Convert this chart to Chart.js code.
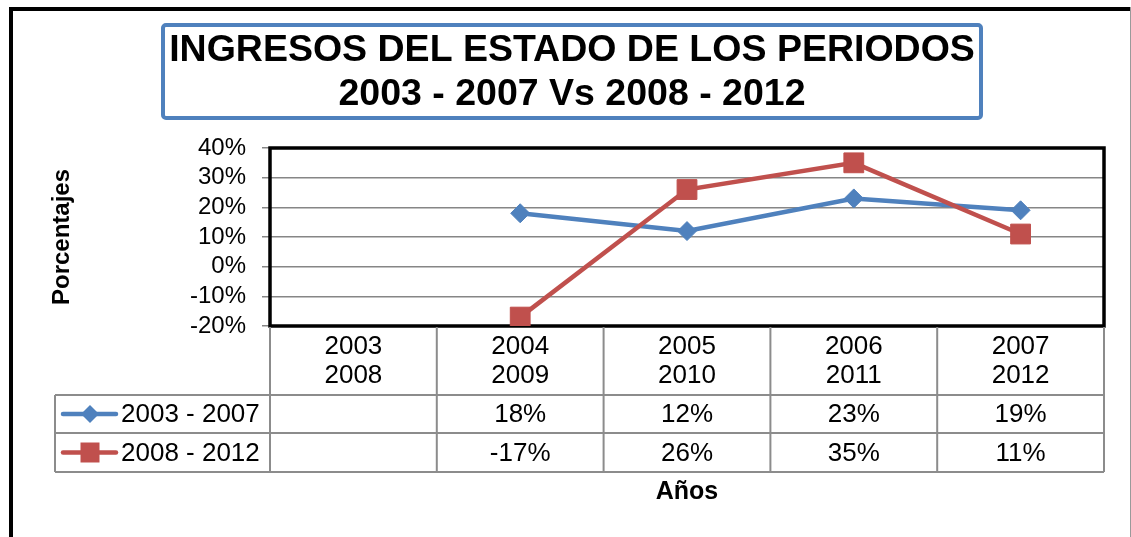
<!DOCTYPE html>
<html>
<head>
<meta charset="utf-8">
<title>Ingresos del Estado</title>
<script src="https://cdn.jsdelivr.net/npm/chart.js@4.4.0/dist/chart.umd.min.js"></script>
<style>
  html, body { margin: 0; padding: 0; background: #fff; }
  #chart { display: block; }
</style>
</head>
<body>
<canvas id="chart" width="1131" height="537"></canvas>
<script>
// datos del grafico
const catTop = ['2003', '2004', '2005', '2006', '2007'];
const catBottom = ['2008', '2009', '2010', '2011', '2012'];
const serie1 = [null, 18, 12, 23, 19];   // 2003 - 2007
const serie2 = [null, -17, 26, 35, 11];  // 2008 - 2012
const serieNames = ['2003 - 2007', '2008 - 2012'];
const yMin = -20, yMax = 40, yStep = 10;

const titleLines = ['INGRESOS DEL ESTADO DE LOS PERIODOS', '2003 - 2007 Vs 2008 - 2012'];
const yTitle = 'Porcentajes';
const xTitle = 'Años';

const BLUE = '#4F81BD';
const RED = '#C0504D';
const FONT = '"Liberation Sans", Arial, sans-serif';

/**
 * Dibuja el marco, el titulo, la tabla de datos y los titulos de ejes
 */
const extrasPlugin = {
    id: 'extras',
    beforeDraw(chart) {
        const ctx = chart.ctx;
        ctx.save();
        ctx.fillStyle = '#fff';
        ctx.fillRect(0, 0, chart.width, chart.height);
        // marco exterior
        ctx.strokeStyle = '#000';
        ctx.lineWidth = 4;
        ctx.strokeRect(11, 9, 1200, 700);
        ctx.strokeStyle = '#9a9a9a';
        ctx.lineWidth = 1;
        ctx.beginPath();
        ctx.moveTo(1130.5, 7);
        ctx.lineTo(1130.5, 537);
        ctx.stroke();
        ctx.restore();
    },
    beforeDatasetsDraw(chart) {
        const { ctx, chartArea: a } = chart;
        ctx.save();
        ctx.strokeStyle = '#000';
        ctx.lineWidth = 3.5;
        ctx.strokeRect(a.left, a.top, a.right - a.left, a.bottom - a.top);
        ctx.restore();
    },
    afterDraw(chart) {
        const { ctx, chartArea: a } = chart;
        const xs = chart.scales.x;
        const n = catTop.length;
        const colW = (a.right - a.left) / n;
        ctx.save();

        // caja del titulo
        ctx.strokeStyle = BLUE;
        ctx.lineWidth = 4;
        ctx.beginPath();
        ctx.roundRect(163, 25, 818, 93, 3);
        ctx.stroke();
        ctx.fillStyle = '#000';
        ctx.font = 'bold 37.5px ' + FONT;
        ctx.textAlign = 'center';
        ctx.textBaseline = 'middle';
        ctx.fillText(titleLines[0], 572, 51);
        ctx.fillText(titleLines[1], 572, 95);

        // titulo eje y
        ctx.save();
        ctx.translate(62, (a.top + a.bottom) / 2);
        ctx.rotate(-Math.PI / 2);
        ctx.font = 'bold 24px ' + FONT;
        ctx.fillText(yTitle, 0, 0);
        ctx.restore();

        // tabla de datos
        const row1Top = 395, row2Top = 433, tableBottom = 472, legendLeft = 55;
        ctx.strokeStyle = '#8C8C8C';
        ctx.lineWidth = 2;
        ctx.beginPath();
        [row1Top, row2Top, tableBottom].forEach(y => {
            ctx.moveTo(legendLeft, y);
            ctx.lineTo(a.right, y);
        });
        for (let i = 0; i <= n; i++) {
            const x = i < n ? xs.getPixelForValue(i) - colW / 2 : xs.getPixelForValue(n - 1) + colW / 2;
            ctx.moveTo(x, a.bottom + 1);
            ctx.lineTo(x, tableBottom);
        }
        ctx.moveTo(legendLeft, row1Top);
        ctx.lineTo(legendLeft, tableBottom);
        ctx.stroke();

        ctx.fillStyle = '#000';
        ctx.font = '26px ' + FONT;
        ctx.textAlign = 'center';
        const series = [serie1, serie2];
        const rowMid = [(row1Top + row2Top) / 2, (row2Top + tableBottom) / 2];
        for (let i = 0; i < n; i++) {
            const cx = xs.getPixelForValue(i);
            ctx.fillText(catTop[i], cx, 347);
            ctx.fillText(catBottom[i], cx, 376);
            series.forEach((s, k) => {
                if (s[i] !== null) ctx.fillText(s[i] + '%', cx, rowMid[k] + 1);
            });
        }

        // claves de leyenda
        const colors = [BLUE, RED];
        rowMid.forEach((y, k) => {
            ctx.strokeStyle = colors[k];
            ctx.fillStyle = colors[k];
            ctx.lineWidth = 4.5;
            ctx.lineCap = 'round';
            ctx.beginPath();
            ctx.moveTo(63, y);
            ctx.lineTo(116, y);
            ctx.stroke();
            ctx.beginPath();
            if (k === 0) {
                ctx.moveTo(90, y - 9);
                ctx.lineTo(99, y);
                ctx.lineTo(90, y + 9);
                ctx.lineTo(81, y);
                ctx.closePath();
            } else {
                ctx.rect(80.5, y - 10, 19, 20);
            }
            ctx.fill();
            ctx.fillStyle = '#000';
            ctx.textAlign = 'left';
            ctx.fillText(serieNames[k], 121, y + 1);
        });

        // titulo eje x
        ctx.font = 'bold 25px ' + FONT;
        ctx.textAlign = 'center';
        ctx.fillText(xTitle, (a.left + a.right) / 2, 492);
        ctx.restore();
    }
};

const ctx = document.getElementById('chart').getContext('2d');
const myChart = new Chart(ctx, {
    type: 'line',
    data: {
        labels: catTop.map((t, i) => [t, catBottom[i]]),
        datasets: [{
            label: serieNames[0],
            data: serie1,
            borderColor: BLUE,
            backgroundColor: BLUE,
            borderWidth: 4.5,
            pointStyle: 'rectRot',
            pointRadius: 9.5,
            pointBorderWidth: 1,
            tension: 0,
            order: 1
        }, {
            label: serieNames[1],
            data: serie2,
            borderColor: RED,
            backgroundColor: RED,
            borderWidth: 4.5,
            pointStyle: 'rect',
            pointRadius: 14,
            pointBorderWidth: 1,
            tension: 0,
            order: 0
        }]
    },
    options: {
        responsive: false,
        animation: false,
        devicePixelRatio: 1,
        layout: { padding: { left: 40, right: 27, top: 148, bottom: 211 } },
        scales: {
            x: { display: false, offset: true },
            y: {
                min: yMin,
                max: yMax,
                afterFit: scale => { scale.width = 230; },
                ticks: {
                    stepSize: yStep,
                    autoSkip: false,
                    color: '#000',
                    padding: 16,
                    font: { family: FONT, size: 24 },
                    callback: v => v + '%'
                },
                grid: { color: '#868686', lineWidth: 1.5, tickLength: 8, tickColor: '#868686' },
                border: { display: false }
            }
        },
        plugins: {
            legend: { display: false },
            tooltip: { enabled: false }
        }
    },
    plugins: [extrasPlugin]
});
</script>
</body>
</html>
